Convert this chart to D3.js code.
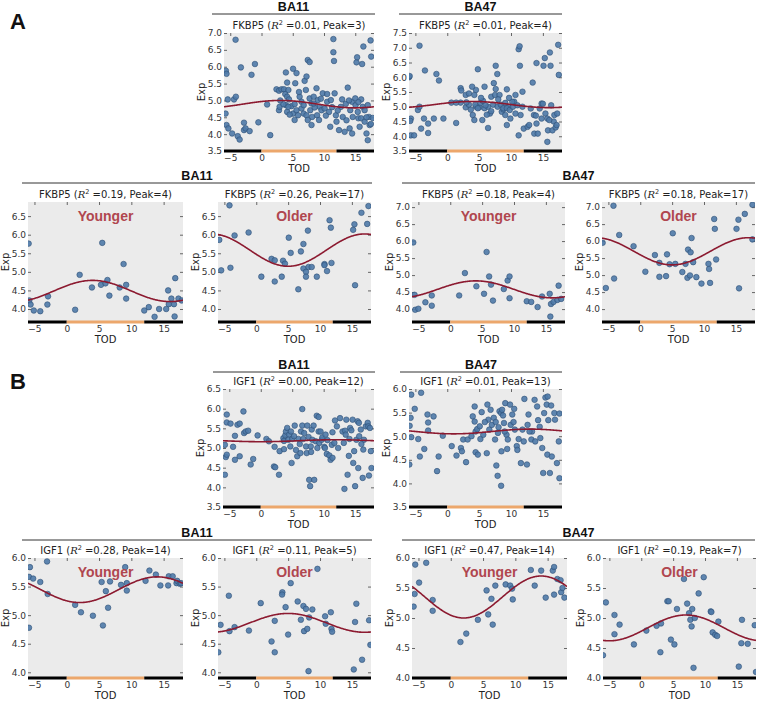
<!DOCTYPE html>
<html><head><meta charset="utf-8">
<script src="https://cdn.jsdelivr.net/npm/d3@7"></script>
<style>body{margin:0;background:#fff;} svg{display:block;font-family:"DejaVu Sans",sans-serif;}</style>
</head><body><svg id="c" width="760" height="701"></svg>
<script>
// ---------------- DATA ----------------
const genes = ["FKBP5","FKBP5","FKBP5","FKBP5","FKBP5","FKBP5","IGF1","IGF1","IGF1","IGF1","IGF1","IGF1"];
const r2Values = [0.01,0.01,0.19,0.26,0.18,0.18,0.00,0.01,0.28,0.11,0.47,0.19];
const peakValues = [3,4,4,17,4,17,12,13,14,5,14,7];
const groupLabels = ["","","Younger","Older","Younger","Older","","","Younger","Older","Younger","Older"];
const fitMesor = [4.89,5.075,4.485,5.585,4.58,5.70,5.185,5.10,5.445,4.865,5.35,4.835];
const fitAmp   = [0.11,0.105,0.285,0.435,0.25,0.40,0.025,0.05,0.225,0.165,0.35,0.215];
const yMin = [3.5,3.5,3.65,3.65,3.62,3.62,3.5,3.5,3.9,3.9,4.0,4.0];
const yMax = [7.0,7.5,6.88,6.88,7.15,7.15,6.5,6.0,6.0,6.0,6.0,6.0];
const yTicks = [
  [3.5,4.0,4.5,5.0,5.5,6.0,6.5,7.0],[3.5,4.0,4.5,5.0,5.5,6.0,6.5,7.0,7.5],
  [4.0,4.5,5.0,5.5,6.0,6.5],[4.0,4.5,5.0,5.5,6.0,6.5],
  [4.0,4.5,5.0,5.5,6.0,6.5,7.0],[4.0,4.5,5.0,5.5,6.0,6.5,7.0],
  [3.5,4.0,4.5,5.0,5.5,6.0,6.5],[3.5,4.0,4.5,5.0,5.5,6.0],
  [4.0,4.5,5.0,5.5,6.0],[4.0,4.5,5.0,5.5,6.0],[4.0,4.5,5.0,5.5,6.0],[4.0,4.5,5.0,5.5,6.0]];
const xTicks = [-5,0,5,10,15];
const todDomain = [-6,18];
const daySegments = [[-6,0,"night"],[0,12,"day"],[12,18,"night"]];
const regions = ["BA11","BA47"];
const panelLetters = ["A","B"];

const fkbp5BA11All = [[-5.7,5.88],[-5.6,5.79],[-5.75,4.61],[-5.4,5.03],[-5.6,4.27],[-5.3,4.17],[-4.7,4.02],[-4.4,5.03],[-4.1,5.11],[-4.15,6.80],[-3.8,3.94],[-3.5,3.84],[-3.3,5.98],[-2.8,4.34],[-2.8,4.12],[-2.55,4.17],[-1.9,4.09],[-1.6,5.76],[-1.05,6.08],[-0.5,4.35],[1.4,3.97],[0.9,4.88],[2.4,5.33],[2.8,5.29],[3.2,5.33],[2.8,4.71],[3.6,5.33],[3.8,5.19],[3.9,5.83],[4.1,5.53],[4.3,5.31],[4.1,5.11],[4.4,5.03],[5.05,5.94],[5.6,5.81],[5.4,5.51],[5.05,4.61],[4.8,4.83],[5.3,4.89],[5.6,4.71],[6.1,5.11],[6.4,4.96],[6.4,4.76],[6.75,4.61],[6.9,5.58],[7.2,5.71],[7.1,5.31],[7.4,6.20],[7.7,6.14],[7.7,5.06],[8.0,4.91],[7.8,4.71],[8.1,4.51],[8.0,4.27],[8.35,5.11],[8.8,5.36],[8.9,4.56],[9.0,5.01],[9.3,4.81],[9.6,4.71],[9.2,4.42],[9.8,5.21],[10.1,4.76],[10.5,5.19],[10.5,4.96],[10.8,4.66],[11.1,5.01],[11.0,4.22],[11.5,6.82],[11.5,6.43],[11.6,6.17],[11.7,5.21],[11.9,4.56],[12.0,4.37],[12.4,4.12],[12.7,4.81],[12.9,5.03],[13.0,4.51],[13.3,4.07],[13.6,4.41],[13.8,5.38],[14.1,4.17],[14.2,4.71],[14.5,4.96],[14.5,4.02],[14.6,4.51],[15.0,5.06],[15.05,4.86],[15.2,6.13],[15.3,6.28],[15.4,4.66],[15.5,4.47],[15.7,4.22],[15.95,5.03],[16.1,6.08],[16.2,4.81],[16.3,6.60],[15.95,4.47],[16.5,4.37],[16.8,4.02],[17.0,3.82],[17.0,4.86],[17.2,4.51],[17.3,4.27],[17.45,6.78],[17.55,6.30],[16.5,4.71],[2.9,4.81],[3.9,4.86],[4.1,4.66],[4.5,4.58],[4.3,4.81],[3.5,4.89],[5.85,4.56],[5.3,4.42],[7.2,4.56],[7.4,4.42],[6.75,4.86],[8.5,4.79],[8.35,4.91],[3.0,5.0],[6.0,5.25],[9.5,5.05],[10.3,4.55],[11.3,4.8],[12.2,4.7],[13.5,4.9],[14.0,5.0],[16.8,4.5],[17.5,4.3],[15.5,4.95],[17.8,4.48]];

const fkbp5BA47All = [[-6.0,6.0],[-5.9,6.04],[-4.6,4.89],[-4.35,5.0],[-5.7,4.60],[-5.8,4.52],[-5.7,4.03],[-5.2,4.03],[-4.35,7.07],[-4.1,4.26],[-3.5,6.23],[-3.65,4.60],[-3.0,4.43],[-3.0,4.11],[-2.1,4.60],[-1.7,6.11],[-1.3,5.89],[-0.6,4.60],[0.65,5.14],[1.4,4.45],[2.1,5.63],[2.2,5.55],[2.1,5.14],[2.9,5.40],[2.9,4.98],[4.8,6.27],[4.0,4.72],[4.25,4.55],[4.5,5.0],[5.05,4.98],[5.5,4.55],[5.85,5.68],[6.4,4.28],[6.7,4.77],[6.9,5.34],[7.3,5.8],[7.6,5.6],[7.6,6.39],[7.85,6.11],[8.55,4.83],[8.8,4.91],[9.1,4.72],[9.35,5.59],[9.35,4.38],[9.6,5.0],[9.9,4.60],[10.5,5.17],[10.7,5.40],[11.2,6.95],[11.35,7.05],[11.4,6.39],[11.8,5.51],[11.8,5.0],[11.2,4.03],[12.0,4.26],[12.6,4.32],[12.85,4.38],[13.1,4.94],[13.4,5.82],[13.6,4.72],[13.9,4.7],[13.65,4.09],[14.2,4.09],[14.0,6.48],[14.0,4.43],[14.5,4.94],[14.8,5.11],[14.8,4.60],[15.1,6.39],[15.3,6.65],[15.4,4.77],[15.7,4.60],[15.7,3.81],[15.8,4.20],[16.1,6.84],[16.2,6.39],[16.3,5.05],[16.5,4.20],[16.7,4.5],[16.8,4.72],[17.0,4.3],[17.15,4.38],[17.25,4.77],[17.4,7.10],[17.5,6.08],[3.4,5.07],[3.7,4.9],[4.4,5.07],[4.8,4.95],[5.2,5.13],[5.6,5.2],[5.85,4.95],[6.2,4.73],[6.4,5.0],[6.9,4.85],[7.2,5.07],[7.5,5.4],[7.9,5.0],[8.2,5.4],[8.4,5.07],[8.8,4.95],[9.1,5.13],[9.35,4.95],[9.8,4.89],[10.2,5.17],[10.3,5.0],[11.0,5.05],[11.5,4.72],[10.7,4.77],[3.4,5.45],[4.25,5.4],[4.5,5.57],[3.9,5.68],[1.4,5.14],[5.3,5.3],[6.0,5.05],[8.0,5.25],[9.7,5.3],[3.0,5.15],[15.0,5.1],[16.0,4.55]];

const fkbp5BA11Young = [[-5.9,5.76],[-5.8,4.23],[-5.6,4.12],[-5.1,3.96],[-4.1,3.94],[-3.0,4.12],[-2.9,4.34],[1.3,3.98],[2.0,4.92],[3.9,4.58],[5.3,4.65],[5.5,5.78],[6.0,4.69],[6.3,4.78],[6.6,4.36],[8.2,4.58],[8.8,5.21],[9.2,4.65],[9.2,4.28],[12.0,3.96],[12.7,4.05],[13.6,3.79],[14.3,4.0],[15.4,4.0],[15.7,4.5],[15.8,4.13],[16.2,4.28],[16.6,4.13],[16.7,3.8],[16.8,4.83],[17.3,4.28],[17.8,4.23]];

const fkbp5BA11Old = [[-5.8,5.86],[-5.5,5.04],[-4.2,6.79],[-4.05,5.11],[-3.4,5.98],[-1.2,6.06],[0.8,4.87],[2.4,5.35],[2.9,5.31],[2.9,4.74],[4.0,4.87],[4.2,5.30],[4.5,5.22],[5.1,5.92],[5.4,5.51],[6.6,4.53],[7.0,5.55],[7.4,5.09],[7.4,5.75],[7.8,5.00],[7.8,4.87],[8.1,6.11],[8.2,5.13],[8.7,5.13],[9.5,4.87],[10.7,5.21],[10.7,5.18],[11.1,5.02],[11.5,6.39],[11.7,6.19],[11.8,5.24],[15.2,6.13],[15.4,6.28],[15.5,4.64],[16.5,6.59],[17.4,6.29],[17.6,6.77]];

const fkbp5BA47Young = [[-5.8,5.96],[-5.6,4.42],[-5.5,3.98],[-5.0,4.01],[-3.9,4.20],[-2.9,4.40],[-2.9,4.10],[1.4,4.40],[2.3,5.06],[4.1,4.67],[5.3,4.45],[5.7,5.68],[6.1,4.96],[6.4,4.72],[6.7,4.25],[8.4,4.59],[9.0,4.84],[9.3,4.96],[9.3,4.32],[12.0,4.23],[12.7,4.21],[13.7,4.06],[14.4,4.37],[15.6,4.45],[15.7,3.78],[15.8,4.15],[16.2,4.21],[16.8,4.27],[17.0,4.69],[17.4,4.30]];

const fkbp5BA47Old = [[-5.9,5.95],[-5.4,4.62],[-4.2,7.04],[-4.1,4.90],[-3.3,6.18],[-1.05,5.85],[0.8,5.10],[2.3,5.59],[3.0,5.36],[3.0,4.95],[4.05,4.97],[4.2,5.61],[4.6,5.32],[5.1,6.23],[5.5,5.33],[6.6,5.09],[7.1,5.33],[7.4,4.92],[7.5,5.75],[7.8,4.99],[7.9,5.67],[8.05,6.09],[8.3,5.38],[8.8,4.94],[9.6,4.75],[10.7,5.33],[10.8,5.18],[10.95,4.77],[11.6,6.65],[11.7,6.36],[11.9,5.46],[15.1,6.36],[15.4,6.63],[15.5,4.61],[16.4,6.80],[17.6,7.07],[17.6,6.05]];

const igf1BA11All = [[-5.7,5.08],[-5.7,4.32],[-5.55,4.77],[-5.4,4.83],[-5.4,5.85],[-5.4,5.65],[-4.8,5.62],[-4.4,5.03],[-4.1,5.31],[-4.1,4.70],[-3.7,5.59],[-3.35,5.62],[-3.35,4.79],[-2.75,5.93],[-2.65,5.38],[-2.4,5.42],[-2.0,5.44],[-1.6,4.58],[-1.2,4.72],[-0.5,5.32],[0.9,5.23],[1.3,5.17],[2.1,4.53],[2.3,4.51],[2.2,5.03],[2.9,4.32],[3.0,4.92],[3.6,5.25],[3.7,5.18],[3.9,5.32],[3.7,4.97],[4.0,5.42],[4.2,5.51],[4.5,5.34],[4.4,5.21],[4.7,5.04],[4.9,4.62],[4.8,5.42],[5.0,5.23],[5.4,5.57],[5.3,5.30],[5.8,4.79],[6.0,5.23],[6.3,4.87],[6.4,5.42],[6.6,5.99],[6.6,5.57],[6.9,5.38],[6.75,5.23],[7.2,5.04],[7.3,4.87],[7.4,5.57],[7.6,5.28],[7.7,4.19],[7.85,4.03],[7.95,5.04],[8.1,5.47],[8.2,5.21],[8.4,5.57],[8.5,4.19],[8.75,5.17],[8.9,5.82],[9.2,5.79],[9.2,5.42],[9.3,5.13],[9.5,5.42],[9.7,5.21],[9.8,5.27],[10.1,5.03],[10.2,5.0],[10.3,5.34],[10.5,4.85],[10.9,4.81],[11.1,4.70],[11.4,4.75],[11.3,5.08],[11.4,5.40],[11.8,5.70],[11.7,5.13],[12.1,5.55],[12.6,5.76],[13.0,5.42],[13.2,5.13],[13.3,3.96],[13.4,5.44],[13.5,5.34],[13.6,5.72],[13.8,4.32],[14.1,5.23],[14.2,5.51],[14.4,5.45],[14.6,5.72],[14.7,4.62],[14.85,4.92],[15.0,4.03],[15.2,5.21],[15.4,5.68],[15.6,5.64],[15.5,4.49],[15.65,5.30],[15.9,5.47],[16.2,4.24],[16.3,4.96],[16.4,5.21],[16.7,5.55],[17.0,5.64],[17.1,5.55],[17.2,4.30],[17.35,5.51],[17.5,4.92],[17.6,4.49],[6.2,5.1],[8.0,4.9],[9.0,5.0],[10.6,5.2],[12.3,5.0],[14.0,4.8],[16.0,5.1],[5.6,4.95]];

const igf1BA47All = [[-5.95,4.40],[-5.9,5.22],[-5.75,5.39],[-5.65,4.98],[-5.65,5.88],[-5.1,5.58],[-4.55,4.94],[-4.3,4.57],[-4.1,5.92],[-3.6,4.73],[-3.1,5.46],[-2.15,5.42],[-3.0,5.29],[-3.0,5.12],[-1.6,4.26],[-1.35,4.57],[-0.7,5.01],[0.7,4.79],[1.45,4.59],[2.15,4.75],[2.3,4.68],[2.5,4.93],[2.95,4.45],[3.2,4.93],[4.0,5.42],[4.3,5.31],[4.3,5.63],[4.45,5.10],[4.7,5.15],[4.45,4.66],[4.8,4.61],[5.1,5.21],[5.2,4.94],[5.4,5.51],[5.65,5.03],[6.2,4.64],[6.3,5.67],[6.45,5.35],[6.6,5.14],[6.8,5.56],[7.0,5.24],[7.3,5.39],[7.5,4.93],[7.7,4.38],[7.9,4.16],[7.95,5.07],[8.05,5.19],[8.2,5.53],[8.45,5.49],[8.6,5.56],[8.45,3.95],[8.5,4.68],[8.75,5.44],[8.9,5.28],[9.1,5.70],[9.3,5.03],[9.5,4.93],[9.4,4.73],[9.85,5.67],[9.95,5.24],[10.2,5.46],[10.5,5.58],[10.6,5.14],[10.9,4.79],[11.0,4.71],[11.2,4.94],[11.55,4.43],[11.8,5.14],[12.0,4.89],[12.1,5.79],[12.5,4.40],[12.6,5.24],[12.75,5.46],[13.2,4.93],[13.3,5.10],[13.7,5.77],[13.8,4.89],[14.1,5.63],[14.25,5.34],[14.6,4.96],[14.9,4.75],[15.05,4.22],[15.2,5.49],[15.4,5.82],[15.75,5.84],[15.6,5.67],[15.7,4.61],[15.85,5.34],[16.1,4.22],[16.3,5.65],[16.4,4.57],[16.8,5.49],[16.9,5.35],[17.2,4.43],[17.5,4.89],[17.6,4.11],[17.6,5.48],[3.8,5.0],[5.9,5.3],[7.6,5.3],[9.0,5.1],[10.4,5.3],[12.9,5.1],[14.5,5.2]];

const igf1BA11Young = [[-5.85,5.67],[-5.7,5.84],[-5.85,4.78],[-5.2,5.64],[-4.1,5.58],[-3.05,5.94],[-2.95,5.37],[1.3,5.18],[2.2,5.05],[4.05,4.99],[5.4,5.58],[5.6,4.82],[6.05,5.42],[6.4,5.13],[6.7,5.59],[8.4,5.53],[9.05,5.84],[9.3,5.56],[9.3,5.43],[12.2,5.60],[12.8,5.78],[13.8,5.71],[14.5,5.52],[15.7,5.52],[15.8,5.68],[16.4,5.68],[17.0,5.56],[17.1,5.60],[17.5,5.55],[17.7,5.56]];

const igf1BA11Old = [[-5.95,4.35],[-5.6,4.83],[-4.3,5.34],[-4.2,4.72],[-3.4,4.79],[-1.15,4.73],[0.7,5.21],[2.4,4.54],[2.9,4.90],[2.9,4.35],[4.1,5.40],[4.05,5.36],[4.6,5.14],[5.0,4.66],[5.4,5.56],[6.5,5.24],[7.0,4.92],[7.4,5.16],[7.5,4.72],[7.8,5.11],[8.0,4.76],[8.2,4.02],[8.3,4.96],[8.8,5.10],[9.6,5.81],[10.8,4.98],[10.9,4.85],[11.7,5.05],[11.8,4.76],[11.9,4.71],[15.3,4.05],[15.5,4.88],[15.7,5.20],[16.6,4.22],[17.7,4.91],[17.9,4.48]];

const igf1BA47Young = [[-5.75,5.19],[-5.6,5.40],[-5.5,5.89],[-4.9,5.59],[-3.8,5.92],[-2.8,5.30],[-2.8,5.12],[1.5,4.60],[2.4,4.74],[4.2,4.97],[5.55,5.46],[5.8,5.06],[6.3,5.32],[6.5,4.89],[6.9,5.54],[8.5,5.56],[9.2,5.54],[9.5,5.49],[9.6,5.31],[12.4,5.80],[13.0,5.54],[14.0,5.79],[14.7,5.34],[15.8,5.79],[16.0,5.85],[16.0,5.39],[16.5,5.65],[17.0,5.63],[17.1,5.43],[17.3,5.50],[17.6,5.34]];

const igf1BA47Old = [[-6.0,4.38],[-5.55,5.26],[-4.2,5.05],[-4.2,4.73],[-3.4,4.89],[-1.15,4.56],[0.8,4.79],[2.4,4.87],[3.0,4.43],[3.1,4.91],[4.1,5.28],[4.3,5.28],[4.65,4.64],[5.2,4.56],[5.6,5.15],[6.7,5.65],[7.2,5.24],[7.5,5.08],[7.7,4.97],[7.9,4.86],[8.0,5.15],[8.2,4.17],[8.4,5.00],[9.0,5.41],[9.8,5.68],[10.9,5.11],[11.0,5.10],[11.2,4.76],[11.6,4.72],[11.9,4.70],[12.1,4.94],[15.3,4.19],[15.7,4.58],[15.8,4.97],[16.7,4.57],[17.8,4.88],[18.0,4.10]];

const panelData = [fkbp5BA11All,fkbp5BA47All,fkbp5BA11Young,fkbp5BA11Old,fkbp5BA47Young,fkbp5BA47Old,
                   igf1BA11All,igf1BA47All,igf1BA11Young,igf1BA11Old,igf1BA47Young,igf1BA47Old];

// ---------------- LAYOUT ----------------
const rects = [
 {l:224,r:374,t:33,b:151},{l:409,r:562,t:33,b:151},
 {l:28,r:183,t:202,b:322},{l:218,r:371,t:202,b:322},{l:412,r:565,t:202,b:322},{l:602,r:755,t:202,b:322},
 {l:223,r:374,t:389,b:507},{l:409,r:562,t:389,b:507},
 {l:28,r:183,t:558,b:678},{l:218,r:371,t:558,b:678},{l:412,r:567,t:558,b:678},{l:603,r:756,t:558,b:678}];
const headers = [
 {ri:0,x1:212,x2:375,y:14},{ri:1,x1:399,x2:562,y:14},
 {ri:0,x1:22,x2:372,y:183},{ri:1,x1:402,x2:755,y:183},
 {ri:0,x1:213,x2:375,y:372},{ri:1,x1:400,x2:562,y:372},
 {ri:0,x1:22,x2:372,y:540},{ri:1,x1:402,x2:755,y:540}];
const letterPos = [{x:10,y:29},{x:10,y:389}];

const svg = d3.select("#c");
const defs = svg.append("defs");

headers.forEach(h=>{
  svg.append("line").attr("x1",h.x1).attr("x2",h.x2).attr("y1",h.y).attr("y2",h.y)
    .attr("stroke","#333").attr("stroke-width",1);
  svg.append("text").attr("x",(h.x1+h.x2)/2).attr("y",h.y-3).attr("text-anchor","middle")
    .attr("font-family","'Liberation Sans',Arial,sans-serif").attr("font-weight","bold")
    .attr("font-size",12.5).attr("fill","#111").text(regions[h.ri]);
});
letterPos.forEach((p,i)=>{
  svg.append("text").attr("x",p.x).attr("y",p.y).attr("font-family","'Liberation Sans',Arial,sans-serif")
    .attr("font-weight","bold").attr("font-size",22).attr("fill","#111").text(panelLetters[i]);
});

panelData.forEach((data,i)=>{
  const r = rects[i];
  const x = d3.scaleLinear().domain(todDomain).range([r.l,r.r]);
  const y = d3.scaleLinear().domain([yMin[i],yMax[i]]).range([r.b,r.t]);
  const g = svg.append("g");
  g.append("rect").attr("x",r.l).attr("y",r.t).attr("width",r.r-r.l).attr("height",r.b-r.t).attr("fill","#ebebeb");
  defs.append("clipPath").attr("id","cp"+i).append("rect")
    .attr("x",r.l).attr("y",r.t).attr("width",r.r-r.l).attr("height",r.b-r.t);

  // axes
  const ya = g.append("g").attr("transform",`translate(${r.l},0)`)
    .call(d3.axisLeft(y).tickValues(yTicks[i]).tickFormat(d3.format(".1f")).tickSizeInner(-3).tickSizeOuter(0).tickPadding(2));
  const yr = g.append("g").attr("transform",`translate(${r.r},0)`)
    .call(d3.axisRight(y).tickValues(yTicks[i]).tickFormat("").tickSizeInner(-3).tickSizeOuter(0));
  const xa = g.append("g").attr("transform",`translate(0,${r.b})`)
    .call(d3.axisBottom(x).tickValues(xTicks).tickFormat(d3.format("d")).tickSize(0).tickPadding(4));
  const xt = g.append("g").attr("transform",`translate(0,${r.t})`)
    .call(d3.axisTop(x).tickValues(xTicks).tickFormat("").tickSizeInner(-3).tickSizeOuter(0));
  [ya,yr,xa,xt].forEach(a=>{
    a.select(".domain").remove();
    a.selectAll("line").attr("stroke","#666");
    a.selectAll("text").attr("font-size",9).attr("fill","#333").attr("font-family","'DejaVu Sans',sans-serif");
  });
  xa.selectAll("text").text(d=> d<0 ? "\u2212"+Math.abs(d) : d);

  // points
  g.append("g").attr("clip-path",`url(#cp${i})`).selectAll("circle").data(data).join("circle")
    .attr("cx",d=>x(d[0])).attr("cy",d=>y(d[1])).attr("r",2.8)
    .attr("fill","#4f7aa8").attr("fill-opacity",0.9).attr("stroke","#2e4f75").attr("stroke-width",0.6);

  // fitted cosinor curve (from the fitted peak, mesor and amplitude)
  const peak = peakValues[i];
  const curvePts = d3.range(todDomain[0], todDomain[1]+0.001, 0.1)
    .map(t=>[t, fitMesor[i] + fitAmp[i]*Math.cos(2*Math.PI*(t-peak)/24)]);
  g.append("path").datum(curvePts).attr("clip-path",`url(#cp${i})`)
    .attr("d",d3.line().x(d=>x(d[0])).y(d=>y(d[1])))
    .attr("fill","none").attr("stroke","#8c1a30").attr("stroke-width",1.6);

  // day/night bar
  g.selectAll("rect.seg").data(daySegments).join("rect").attr("class","seg")
    .attr("x",d=>x(d[0])).attr("width",d=>x(d[1])-x(d[0]))
    .attr("y",r.b-1.5).attr("height",3)
    .attr("fill",d=>d[2]==="day" ? "#eca76c" : "#000");

  // group label
  if (groupLabels[i]) {
    g.append("text").attr("x",(r.l+r.r)/2).attr("y",r.t+19).attr("text-anchor","middle")
      .attr("font-family","'Liberation Sans',Arial,sans-serif").attr("font-weight","bold")
      .attr("font-size",14).attr("fill","#b0464f").text(groupLabels[i]);
  }

  // title
  const t = g.append("text").attr("x",(r.l+r.r)/2).attr("y",r.t-4).attr("text-anchor","middle")
    .attr("font-size",10).attr("fill","#222");
  t.append("tspan").text(genes[i]+" (");
  t.append("tspan").attr("font-family","'DejaVu Serif',serif").attr("font-style","italic").text("R");
  t.append("tspan").attr("font-size",6.5).attr("dy",-4).text("2");
  t.append("tspan").attr("dy",4).text(" =" + r2Values[i].toFixed(2) + ", Peak=" + peakValues[i] + ")");

  // axis labels
  g.append("text").attr("transform",`translate(${r.l-19},${(r.t+r.b)/2}) rotate(-90)`)
    .attr("text-anchor","middle").attr("font-size",10).attr("fill","#222").text("Exp");
  g.append("text").attr("x",(r.l+r.r)/2).attr("y",r.b+21).attr("text-anchor","middle")
    .attr("font-size",10).attr("fill","#222").text("TOD");
});
</script></body></html>
